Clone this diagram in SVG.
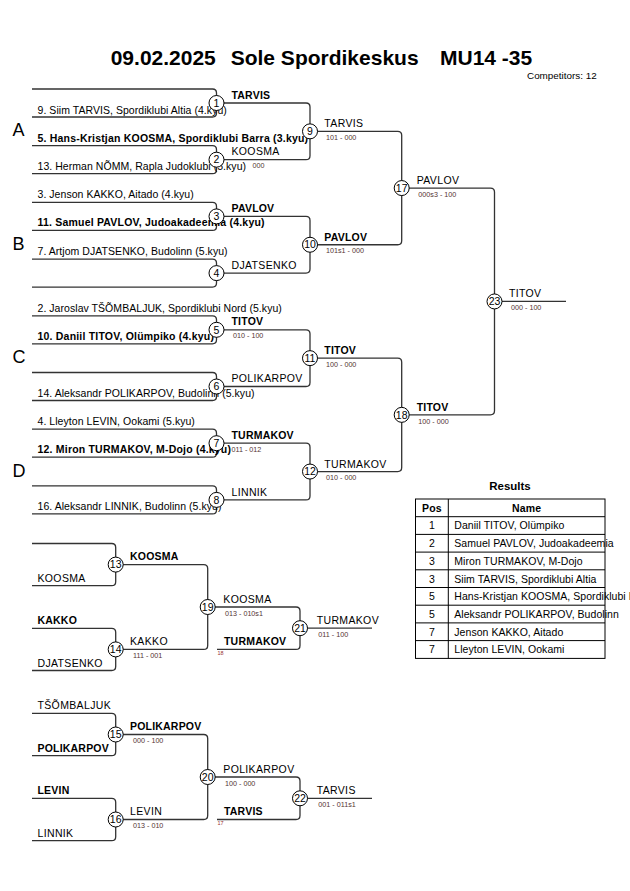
<svg xmlns="http://www.w3.org/2000/svg" width="630" height="891" viewBox="0 0 630 891">
<style>
text{font-family:"Liberation Sans",Arial,sans-serif;fill:#000}
.nm{font-size:10.5px;letter-spacing:0.05px}
.b{font-weight:bold;letter-spacing:0.2px}
.cap{letter-spacing:0.35px}
.sc{font-size:7.2px;fill:#553333}
.tiny{font-size:5.5px;fill:#993333}
.grp{font-size:18px}
.num{font-size:10.5px;text-anchor:middle}
.ln{fill:none;stroke:#333;stroke-width:1.3}
.nd{fill:#fff;stroke:#000;stroke-width:1}
.tb{fill:none;stroke:#000;stroke-width:1}
.mid{text-anchor:middle}
</style>
<rect width="630" height="891" fill="#fff"/>
<g id="header">
<text x="110.7" y="65" font-size="21" font-weight="bold">09.02.2025</text>
<text x="230.7" y="65" font-size="21" font-weight="bold">Sole Spordikeskus</text>
<text x="440" y="65" font-size="21" font-weight="bold">MU14 -35</text>
<text x="527" y="79.3" font-size="9.9">Competitors: 12</text>
</g>
<g id="pools">
<text class="grp" x="12.5" y="136.3">A</text>
<text class="grp" x="12.5" y="249.7">B</text>
<text class="grp" x="12.5" y="363">C</text>
<text class="grp" x="12.5" y="476.5">D</text>
</g>
<g id="connectors">
<path class="ln" d="M32,89 H212.5 Q216.5,89 216.5,93 V113 Q216.5,117 212.5,117 H32"/>
<path class="ln" d="M32,145.7 H212.5 Q216.5,145.7 216.5,149.7 V169.7 Q216.5,173.7 212.5,173.7 H32"/>
<path class="ln" d="M32,202.4 H212.5 Q216.5,202.4 216.5,206.4 V226.4 Q216.5,230.4 212.5,230.4 H32"/>
<path class="ln" d="M32,259.1 H212.5 Q216.5,259.1 216.5,263.1 V283.1 Q216.5,287.1 212.5,287.1 H32"/>
<path class="ln" d="M32,315.8 H212.5 Q216.5,315.8 216.5,319.8 V339.8 Q216.5,343.8 212.5,343.8 H32"/>
<path class="ln" d="M32,372.5 H212.5 Q216.5,372.5 216.5,376.5 V396.5 Q216.5,400.5 212.5,400.5 H32"/>
<path class="ln" d="M32,429.2 H212.5 Q216.5,429.2 216.5,433.2 V453.2 Q216.5,457.2 212.5,457.2 H32"/>
<path class="ln" d="M32,485.9 H212.5 Q216.5,485.9 216.5,489.9 V509.9 Q216.5,513.9 212.5,513.9 H32"/>
<path class="ln" d="M216.5,103 H306 Q310,103 310,107 V155.7 Q310,159.7 306,159.7 H216.5"/>
<path class="ln" d="M216.5,216.4 H306 Q310,216.4 310,220.4 V269.1 Q310,273.1 306,273.1 H216.5"/>
<path class="ln" d="M216.5,329.8 H306 Q310,329.8 310,333.8 V382.5 Q310,386.5 306,386.5 H216.5"/>
<path class="ln" d="M216.5,443.2 H306 Q310,443.2 310,447.2 V495.9 Q310,499.9 306,499.9 H216.5"/>
<path class="ln" d="M310,131.35 H397.7 Q401.7,131.35 401.7,135.35 V240.75 Q401.7,244.75 397.7,244.75 H310"/>
<path class="ln" d="M310,358.15 H397.7 Q401.7,358.15 401.7,362.15 V467.55 Q401.7,471.55 397.7,471.55 H310"/>
<path class="ln" d="M401.7,188.05 H490.5 Q494.5,188.05 494.5,192.05 V410.85 Q494.5,414.85 490.5,414.85 H401.7"/>
<path class="ln" d="M494.5,301.45 H566"/>
<path class="ln" d="M32,543.5 H111.7 Q115.7,543.5 115.7,547.5 V581.7 Q115.7,585.7 111.7,585.7 H32"/>
<path class="ln" d="M32,628.3 H111.7 Q115.7,628.3 115.7,632.3 V666.5 Q115.7,670.5 111.7,670.5 H32"/>
<path class="ln" d="M115.7,564.6 H203.7 Q207.7,564.6 207.7,568.6 V645.4 Q207.7,649.4 203.7,649.4 H115.7"/>
<path class="ln" d="M207.7,607 H296 Q300,607 300,611 V645.4 Q300,649.4 296,649.4 H217"/>
<path class="ln" d="M300,628.2 H372"/>
<path class="ln" d="M32,713.3 H111.7 Q115.7,713.3 115.7,717.3 V751.7 Q115.7,755.7 111.7,755.7 H32"/>
<path class="ln" d="M32,798.3 H111.7 Q115.7,798.3 115.7,802.3 V836.7 Q115.7,840.7 111.7,840.7 H32"/>
<path class="ln" d="M115.7,734.5 H203.7 Q207.7,734.5 207.7,738.5 V815.5 Q207.7,819.5 203.7,819.5 H115.7"/>
<path class="ln" d="M207.7,777 H296 Q300,777 300,781 V815.5 Q300,819.5 296,819.5 H217"/>
<path class="ln" d="M300,798.3 H372"/>
</g>
<g id="entrants">
<text class="nm" x="37.5" y="113.5">9. Siim TARVIS, Spordiklubi Altia (4.kyu)</text>
<text class="nm b" x="37.5" y="141.7">5. Hans-Kristjan KOOSMA, Spordiklubi Barra (3.kyu)</text>
<text class="nm" x="37.5" y="170">13. Herman NÕMM, Rapla Judoklubi (5.kyu)</text>
<text class="nm" x="37.5" y="198.4">3. Jenson KAKKO, Aitado (4.kyu)</text>
<text class="nm b" x="37.5" y="226.4">11. Samuel PAVLOV, Judoakadeemia (4.kyu)</text>
<text class="nm" x="37.5" y="255.1">7. Artjom DJATSENKO, Budolinn (5.kyu)</text>
<text class="nm" x="37.5" y="311.5">2. Jaroslav TŠÕMBALJUK, Spordiklubi Nord (5.kyu)</text>
<text class="nm b" x="37.5" y="339.8">10. Daniil TITOV, Olümpiko (4.kyu)</text>
<text class="nm" x="37.5" y="396.5">14. Aleksandr POLIKARPOV, Budolinn (5.kyu)</text>
<text class="nm" x="37.5" y="425.2">4. Lleyton LEVIN, Ookami (5.kyu)</text>
<text class="nm b" x="37.5" y="453.2">12. Miron TURMAKOV, M-Dojo (4.kyu)</text>
<text class="nm" x="37.5" y="509.9">16. Aleksandr LINNIK, Budolinn (5.kyu)</text>
</g>
<g id="labels">
<text class="nm b" x="231.5" y="98.8">TARVIS</text>
<text class="nm cap" x="231.5" y="155.4">KOOSMA</text>
<text class="sc" x="252.5" y="168">000</text>
<text class="nm b" x="231.5" y="212">PAVLOV</text>
<text class="nm cap" x="231.5" y="268.7">DJATSENKO</text>
<text class="nm b" x="231.5" y="325.4">TITOV</text>
<text class="sc" x="233" y="338">010 - 100</text>
<text class="nm cap" x="231.5" y="382.1">POLIKARPOV</text>
<text class="nm b" x="231.5" y="438.8">TURMAKOV</text>
<text class="sc" x="231.5" y="451.7">011 - 012</text>
<text class="nm cap" x="231.5" y="495.5">LINNIK</text>
<text class="nm cap" x="324.3" y="127.3">TARVIS</text>
<text class="sc" x="326" y="140">101 - 000</text>
<text class="nm b" x="324.3" y="240.7">PAVLOV</text>
<text class="sc" x="326" y="253.4">101s1 - 000</text>
<text class="nm b" x="324.3" y="354.1">TITOV</text>
<text class="sc" x="326" y="366.8">100 - 000</text>
<text class="nm cap" x="324.3" y="467.5">TURMAKOV</text>
<text class="sc" x="326" y="480.2">010 - 000</text>
<text class="nm cap" x="416.7" y="184">PAVLOV</text>
<text class="sc" x="418.3" y="196.7">000s3 - 100</text>
<text class="nm b" x="416.7" y="410.8">TITOV</text>
<text class="sc" x="418.3" y="423.5">100 - 000</text>
<text class="nm cap" x="509" y="297.4">TITOV</text>
<text class="sc" x="511" y="310">000 - 100</text>
<text class="nm cap" x="37.5" y="581.7">KOOSMA</text>
<text class="nm b" x="37.5" y="623.8">KAKKO</text>
<text class="nm cap" x="37.5" y="666.5">DJATSENKO</text>
<text class="nm b" x="130" y="560.4">KOOSMA</text>
<text class="nm cap" x="130" y="645.2">KAKKO</text>
<text class="sc" x="133" y="658">111 - 001</text>
<text class="nm cap" x="223.3" y="602.7">KOOSMA</text>
<text class="sc" x="225" y="615.5">013 - 010s1</text>
<text class="nm b" x="224" y="645.2">TURMAKOV</text>
<text class="tiny" x="217.5" y="654.5">18</text>
<text class="nm cap" x="316.7" y="623.9">TURMAKOV</text>
<text class="sc" x="318.3" y="636.6">011 - 100</text>
<text class="nm cap" x="37.5" y="709.3">TŠÕMBALJUK</text>
<text class="nm b" x="37.5" y="751.7">POLIKARPOV</text>
<text class="nm b" x="37.5" y="794.3">LEVIN</text>
<text class="nm cap" x="37.5" y="836.7">LINNIK</text>
<text class="nm b" x="130" y="730.3">POLIKARPOV</text>
<text class="sc" x="133" y="743">000 - 100</text>
<text class="nm cap" x="130" y="815.3">LEVIN</text>
<text class="sc" x="133" y="828">013 - 010</text>
<text class="nm cap" x="223.3" y="772.7">POLIKARPOV</text>
<text class="sc" x="225" y="785.5">100 - 000</text>
<text class="nm b" x="224" y="815.3">TARVIS</text>
<text class="tiny" x="217.5" y="824.6">17</text>
<text class="nm cap" x="316.7" y="794">TARVIS</text>
<text class="sc" x="318.3" y="806.7">001 - 011s1</text>
</g>
<g id="n1"><circle class="nd" cx="216.5" cy="103" r="7.5"/><text class="num" x="216.5" y="106.7">1</text></g>
<g id="n2"><circle class="nd" cx="216.5" cy="159.7" r="7.5"/><text class="num" x="216.5" y="163.4">2</text></g>
<g id="n3"><circle class="nd" cx="216.5" cy="216.4" r="7.5"/><text class="num" x="216.5" y="220.1">3</text></g>
<g id="n4"><circle class="nd" cx="216.5" cy="273.1" r="7.5"/><text class="num" x="216.5" y="276.8">4</text></g>
<g id="n5"><circle class="nd" cx="216.5" cy="329.8" r="7.5"/><text class="num" x="216.5" y="333.5">5</text></g>
<g id="n6"><circle class="nd" cx="216.5" cy="386.5" r="7.5"/><text class="num" x="216.5" y="390.2">6</text></g>
<g id="n7"><circle class="nd" cx="216.5" cy="443.2" r="7.5"/><text class="num" x="216.5" y="446.9">7</text></g>
<g id="n8"><circle class="nd" cx="216.5" cy="499.9" r="7.5"/><text class="num" x="216.5" y="503.6">8</text></g>
<g id="n9"><circle class="nd" cx="310" cy="131.35" r="7.5"/><text class="num" x="310" y="135.05">9</text></g>
<g id="n10"><circle class="nd" cx="310" cy="244.75" r="7.5"/><text class="num" x="310" y="248.45">10</text></g>
<g id="n11"><circle class="nd" cx="310" cy="358.15" r="7.5"/><text class="num" x="310" y="361.85">11</text></g>
<g id="n12"><circle class="nd" cx="310" cy="471.55" r="7.5"/><text class="num" x="310" y="475.25">12</text></g>
<g id="n17"><circle class="nd" cx="401.7" cy="188.05" r="7.5"/><text class="num" x="401.7" y="191.75">17</text></g>
<g id="n18"><circle class="nd" cx="401.7" cy="414.85" r="7.5"/><text class="num" x="401.7" y="418.55">18</text></g>
<g id="n23"><circle class="nd" cx="494.5" cy="301.45" r="7.5"/><text class="num" x="494.5" y="305.15">23</text></g>
<g id="n13"><circle class="nd" cx="115.7" cy="564.6" r="7.5"/><text class="num" x="115.7" y="568.3">13</text></g>
<g id="n14"><circle class="nd" cx="115.7" cy="649.4" r="7.5"/><text class="num" x="115.7" y="653.1">14</text></g>
<g id="n19"><circle class="nd" cx="207.7" cy="607" r="7.5"/><text class="num" x="207.7" y="610.7">19</text></g>
<g id="n21"><circle class="nd" cx="300" cy="628.2" r="7.5"/><text class="num" x="300" y="631.9">21</text></g>
<g id="n15"><circle class="nd" cx="115.7" cy="734.5" r="7.5"/><text class="num" x="115.7" y="738.2">15</text></g>
<g id="n16"><circle class="nd" cx="115.7" cy="819.5" r="7.5"/><text class="num" x="115.7" y="823.2">16</text></g>
<g id="n20"><circle class="nd" cx="207.7" cy="777" r="7.5"/><text class="num" x="207.7" y="780.7">20</text></g>
<g id="n22"><circle class="nd" cx="300" cy="798.3" r="7.5"/><text class="num" x="300" y="802">22</text></g>
<g id="results">
<text x="510" y="490" font-size="11.5" font-weight="bold" class="mid">Results</text>
<rect class="tb" x="415.5" y="499" width="189.5" height="159.4" stroke-width="2"/>
<line class="tb" x1="448.3" y1="499" x2="448.3" y2="658.4"/>
<line class="tb" x1="415.5" y1="516.7" x2="605" y2="516.7"/>
<line class="tb" x1="415.5" y1="534.4" x2="605" y2="534.4"/>
<line class="tb" x1="415.5" y1="552.1" x2="605" y2="552.1"/>
<line class="tb" x1="415.5" y1="569.8" x2="605" y2="569.8"/>
<line class="tb" x1="415.5" y1="587.5" x2="605" y2="587.5"/>
<line class="tb" x1="415.5" y1="605.2" x2="605" y2="605.2"/>
<line class="tb" x1="415.5" y1="622.9" x2="605" y2="622.9"/>
<line class="tb" x1="415.5" y1="640.6" x2="605" y2="640.6"/>
<text class="nm b mid" x="431.9" y="511.7">Pos</text>
<text class="nm b mid" x="526.7" y="511.7">Name</text>
<text class="nm mid" x="431.9" y="529.4">1</text><text class="nm" x="454.3" y="529.4">Daniil TITOV, Olümpiko</text>
<text class="nm mid" x="431.9" y="547.1">2</text><text class="nm" x="454.3" y="547.1">Samuel PAVLOV, Judoakadeemia</text>
<text class="nm mid" x="431.9" y="564.8">3</text><text class="nm" x="454.3" y="564.8">Miron TURMAKOV, M-Dojo</text>
<text class="nm mid" x="431.9" y="582.5">3</text><text class="nm" x="454.3" y="582.5">Siim TARVIS, Spordiklubi Altia</text>
<text class="nm mid" x="431.9" y="600.2">5</text><text class="nm" x="454.3" y="600.2">Hans-Kristjan KOOSMA, Spordiklubi Barra</text>
<text class="nm mid" x="431.9" y="617.9">5</text><text class="nm" x="454.3" y="617.9">Aleksandr POLIKARPOV, Budolinn</text>
<text class="nm mid" x="431.9" y="635.6">7</text><text class="nm" x="454.3" y="635.6">Jenson KAKKO, Aitado</text>
<text class="nm mid" x="431.9" y="653.3">7</text><text class="nm" x="454.3" y="653.3">Lleyton LEVIN, Ookami</text>
</g>
</svg>
